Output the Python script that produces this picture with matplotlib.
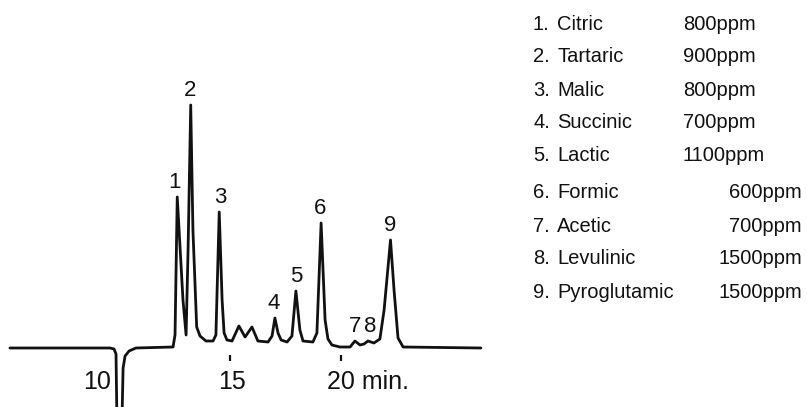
import matplotlib
matplotlib.use("Agg")
import matplotlib.pyplot as plt
import numpy as np

W, H, DPI = 807, 407, 100
INK = "#111111"
plt.rcParams["font.family"] = ["Liberation Sans", "DejaVu Sans"]

# detector trace: retention time (min) vs response (arb. units)
trace_time = [5.02, 9.55, 9.73, 9.82, 9.86, 10.09, 10.14, 10.23, 10.41, 10.72,
              12.40, 12.49, 12.59, 12.85, 12.99, 13.08, 13.20, 13.30, 13.47, 13.62,
              13.89, 14.21, 14.34, 14.49, 14.62, 14.71, 14.84, 15.07, 15.38, 15.66,
              15.97, 16.24, 16.70, 16.88, 17.01, 17.15, 17.29, 17.56, 17.78, 17.96,
              18.14, 18.28, 18.73, 18.91, 19.10, 19.28, 19.41, 19.59, 19.95, 20.41,
              20.63, 20.86, 21.04, 21.22, 21.49, 21.76, 21.95, 22.24, 22.40, 22.58,
              22.81, 26.33]
trace_resp = [0, 0, -1, -6, -72, -72, -20, -8, -3, 0,
              1, 13, 151, 48, 13, 98, 243, 118, 21, 12,
              7, 7, 13, 136, 48, 15, 8, 7, 22, 11,
              21, 7, 6, 12, 30, 15, 8, 6, 12, 57,
              18, 7, 6, 15, 125, 28, 9, 3, 1, 1,
              7, 3, 4, 7, 5, 9, 38, 108, 58, 10,
              1, 0]

peak_ids = ["1", "2", "3", "4", "5", "6", "7", "8", "9"]
peak_time = [12.59, 13.20, 14.49, 17.01, 17.96, 19.10, 20.63, 21.22, 22.24]
label_shift = [-3, -1, 1, -1, 0, -1, 0, 2, 0]   # px nudges as printed

compounds = ["Citric", "Tartaric", "Malic", "Succinic", "Lactic",
             "Formic", "Acetic", "Levulinic", "Pyroglutamic"]
conc_ppm = [800, 900, 800, 700, 1100, 600, 700, 1500, 1500]

tick_marks = [15, 20]

fig = plt.figure(figsize=(W / DPI, H / DPI), dpi=DPI, facecolor="white")
ax = fig.add_axes([0, 0, 1, 1])
ax.set_axis_off()
ax.set_xlim(10 - 120 / 22.1, 10 + 687 / 22.1)
ax.set_ylim(-59, 348)

ax.plot(trace_time, trace_resp, color=INK, lw=2.0, solid_joinstyle="round",
        solid_capstyle="round")

for lab, t, dx in zip(peak_ids, peak_time, label_shift):
    r = np.interp(t, trace_time, trace_resp)
    ax.annotate(lab, (t, r), xytext=(dx * 0.72, 6.5), textcoords="offset points",
                ha="center", va="baseline", fontsize=16, color=INK)

# time axis: only short ticks + labels under the baseline
ax.vlines(tick_marks, -13, -7, color=INK, lw=1.6)
ax.text(10 - 23 / 22.1, -41, "10", ha="center", va="baseline", fontsize=18, color=INK)
ax.text(15.05, -41, "15", ha="center", va="baseline", fontsize=18, color=INK)
ax.text(19.37, -41, "20 min.", ha="left", va="baseline", fontsize=18, color=INK)


def px(x, y):
    return x / W, 1 - y / H


row_base = [29.5, 62.5, 95.5, 128.5, 161.5, 197.5, 231.5, 264.5, 297.5]
for i, (name, ppm, yb) in enumerate(zip(compounds, conc_ppm, row_base)):
    fig.text(*px(533, yb), f"{i + 1}.", ha="left", va="baseline", fontsize=14.5, color=INK)
    fig.text(*px(557, yb), name, ha="left", va="baseline", fontsize=14.5, color=INK)
    if i < 5:
        fig.text(*px(683, yb), f"{ppm}ppm", ha="left", va="baseline", fontsize=14.5, color=INK)
    else:
        fig.text(*px(802, yb), f"{ppm}ppm", ha="right", va="baseline", fontsize=14.5, color=INK)

fig.savefig("out.png", dpi=DPI, facecolor="white")
